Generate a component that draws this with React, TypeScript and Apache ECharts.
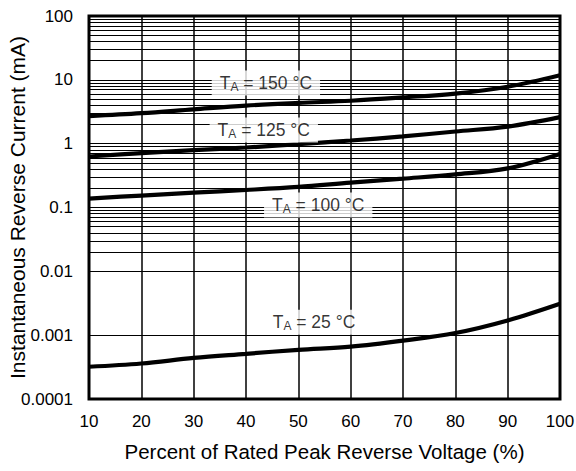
import React, { useEffect, useRef } from "react";
import * as echarts from "echarts";

const xValues = [10, 20, 30, 40, 50, 60, 70, 80, 90, 100];
const t150 = [2.7, 3.0, 3.45, 3.95, 4.35, 4.7, 5.3, 6.1, 7.8, 11.8];
const t125 = [0.63, 0.71, 0.79, 0.87, 0.98, 1.12, 1.3, 1.55, 1.85, 2.6];
const t100 = [0.138, 0.154, 0.171, 0.188, 0.21, 0.245, 0.283, 0.33, 0.41, 0.69];
const t25 = [0.00032, 0.00036, 0.00044, 0.00051, 0.00059, 0.00066, 0.00082, 0.00108, 0.0017, 0.0031];

const yTickLabels = ["0.0001", "0.001", "0.01", "0.1", "1", "10", "100"];
const minorMantissas = [2, 3, 4, 5, 6, 7, 8, 9];
const decades = [0.0001, 0.001, 0.01, 0.1, 1, 10];

const labelTemps = ["150", "125", "100", "25"];
const labelX = [43.8, 43.4, 53.8, 53.0];
const labelY = [8.9, 1.63, 0.109, 0.0016];

const FONT = "'Liberation Sans', Arial, Helvetica, sans-serif";

export default function App() {
  const ref = useRef<HTMLDivElement>(null);
  useEffect(() => {
    const chart = echarts.init(ref.current!, null, { renderer: "svg" });
    const minorLines: any[] = [];
    decades.forEach((d) =>
      minorMantissas.forEach((m) => minorLines.push({ yAxis: +(m * d).toPrecision(3) }))
    );
    const curve = (name: string, vals: number[]) => ({
      name,
      type: "line",
      smooth: 0.35,
      symbol: "none",
      z: 4,
      lineStyle: { color: "#000", width: 4.2 },
      data: xValues.map((x, i) => [x, vals[i]]),
    });
    chart.setOption({
      animation: false,
      textStyle: { fontFamily: FONT },
      grid: {
        left: 89,
        right: 16,
        top: 16,
        bottom: 72,
        containLabel: false,
        outerBoundsMode: "none",
        show: true,
        borderColor: "#000",
        borderWidth: 3,
        backgroundColor: "transparent",
      },
      xAxis: {
        type: "value",
        min: 10,
        max: 100,
        interval: 10,
        name: "Percent of Rated Peak Reverse Voltage (%)",
        nameLocation: "middle",
        nameGap: 42,
        nameMoveOverlap: false,
        nameTextStyle: { color: "#000", fontSize: 20.5, fontFamily: FONT },
        axisLine: { show: false },
        axisTick: { show: false },
        axisLabel: { color: "#000", fontSize: 17, margin: 14, fontFamily: FONT },
        splitLine: { show: true, lineStyle: { color: "#000", width: 1.5 } },
      },
      yAxis: {
        type: "log",
        logBase: 10,
        min: 0.0001,
        max: 100,
        name: "Instantaneous Reverse Current (mA)",
        nameLocation: "middle",
        nameGap: 61,
        nameMoveOverlap: false,
        nameTextStyle: { color: "#000", fontSize: 21, fontFamily: FONT },
        axisLine: { show: false },
        axisTick: { show: false },
        axisLabel: {
          color: "#000",
          fontSize: 17,
          margin: 16,
          fontFamily: FONT,
          formatter: (v: number) => yTickLabels[Math.round(Math.log10(v)) + 4] ?? "",
        },
        splitLine: { show: true, lineStyle: { color: "#000", width: 1.2 } },
      },
      series: [
        {
          name: "grid",
          type: "line",
          data: [],
          z: 2,
          silent: true,
          markLine: {
            silent: true,
            symbol: "none",
            label: { show: false },
            lineStyle: { color: "#000", width: 1, type: "solid" },
            data: minorLines,
          },
        },
        curve("150", t150),
        curve("125", t125),
        curve("100", t100),
        curve("25", t25),
        {
          name: "labels",
          type: "scatter",
          symbolSize: 0,
          z: 6,
          silent: true,
          data: labelX.map((x, i) => ({ value: [x, labelY[i]] })),
          label: {
            show: true,
            position: "inside",
            backgroundColor: "#fff",
            padding: [3, 8, 3, 8],
            formatter: (p: any) => `{t|T}{s|A}{t| = ${labelTemps[p.dataIndex]} °C}`,
            rich: {
              t: { fontSize: 17.5, lineHeight: 19, color: "#000", fontFamily: FONT },
              s: {
                fontSize: 12,
                lineHeight: 12,
                verticalAlign: "bottom",
                color: "#000",
                fontFamily: FONT,
              },
            },
          },
        },
      ],
    });
    return () => chart.dispose();
  }, []);
  return (
    <div
      ref={ref}
      style={{ position: "fixed", left: 0, top: 0, width: 576, height: 471, background: "#fff" }}
    />
  );
}
